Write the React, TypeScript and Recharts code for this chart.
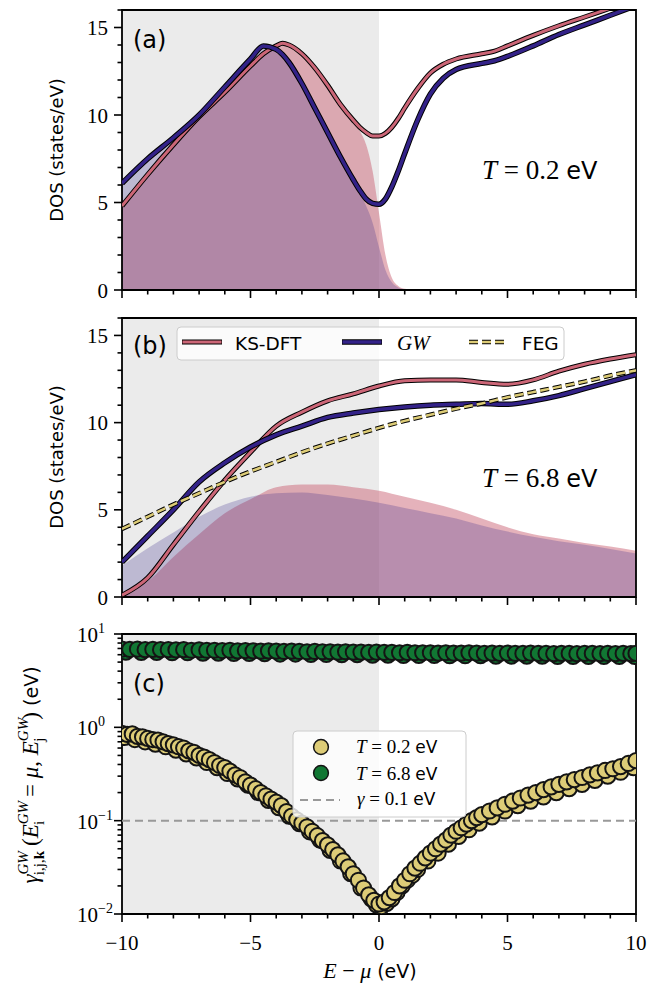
import {
  ComposedChart,
  ScatterChart,
  Area,
  Line,
  Scatter,
  XAxis,
  YAxis,
  ReferenceArea,
  ReferenceLine,
} from "recharts";

// panel (a), T = 0.2 eV
const ENERGY_A = [
  -10, -9, -8, -7, -6, -5, -4.5, -4, -3.75, -3.5, -3, -2.5, -2, -1.5, -1, -0.75,
  -0.5, -0.25, 0, 0.25, 0.5, 0.75, 1, 1.5, 2, 2.5, 3, 4, 4.5, 5, 6, 7, 8, 9, 10,
];
const KS_A = [
  4.8, 6.6, 8.3, 9.9, 11.3, 12.8, 13.5, 13.95, 14.1, 14.0, 13.5, 12.7, 11.7, 10.6,
  9.7, 9.3, 9.0, 8.8, 8.8, 8.95, 9.3, 9.8, 10.4, 11.5, 12.4, 12.9, 13.2, 13.5,
  13.65, 13.95, 14.55, 15.1, 15.6, 16.1, 16.6,
];
const GW_A = [
  6.1, 7.5, 8.7, 10.0, 11.6, 13.2, 13.95, 13.75, 13.45, 13.0, 11.8, 10.4, 9.0, 7.6,
  6.3, 5.7, 5.2, 4.95, 4.9, 5.2, 5.9, 6.8, 7.8, 9.7, 11.2, 12.1, 12.6, 12.95, 13.1,
  13.35, 13.95, 14.6, 15.15, 15.7, 16.25,
];
const KS_OCC_A = [
  4.8, 6.6, 8.3, 9.9, 11.3, 12.8, 13.5, 13.95, 14.1, 14.0, 13.5, 12.7, 11.7, 10.6,
  9.7, 9.1, 8.3, 6.8, 4.4, 2.0, 0.7, 0.23, 0.07, 0, 0, 0, 0, 0, 0, 0, 0, 0, 0, 0, 0,
];
const GW_OCC_A = [
  6.1, 7.5, 8.7, 10.0, 11.6, 13.2, 13.95, 13.75, 13.45, 13.0, 11.8, 10.4, 9.0, 7.6,
  6.3, 5.55, 4.8, 3.85, 2.45, 1.15, 0.45, 0.15, 0.05, 0, 0, 0, 0, 0, 0, 0, 0, 0, 0,
  0, 0,
];

// panel (b), T = 6.8 eV
const ENERGY_B = [-10, -9, -8, -7, -6, -5, -4, -3, -2, -1, 0, 1, 2, 3, 4, 5, 6, 7, 8, 9, 10];
const KS_B = [
  0.1, 1.1, 3.0, 4.9, 6.7, 8.3, 9.8, 10.6, 11.25, 11.65, 12.1, 12.4, 12.45, 12.45,
  12.3, 12.2, 12.45, 12.95, 13.35, 13.65, 13.9,
];
const GW_B = [
  2.0, 3.5, 5.0, 6.6, 7.7, 8.6, 9.3, 9.8, 10.3, 10.55, 10.75, 10.9, 11.0, 11.05,
  11.1, 11.05, 11.25, 11.55, 11.95, 12.35, 12.75,
];
const FEG_B = [
  3.9, 4.6, 5.3, 5.95, 6.6, 7.2, 7.75, 8.3, 8.8, 9.25, 9.7, 10.1, 10.45, 10.8, 11.1,
  11.45, 11.75, 12.05, 12.35, 12.7, 13.0,
];
const KS_OCC_B = [
  0.1, 0.9, 2.3, 3.6, 4.8, 5.6, 6.3, 6.45, 6.45, 6.3, 6.1, 5.75, 5.4, 5.0, 4.5, 4.0,
  3.6, 3.35, 3.1, 2.9, 2.65,
];
const GW_OCC_B = [
  1.8, 2.8, 3.7, 4.6, 5.3, 5.75, 5.95, 6.0, 5.85, 5.65, 5.4, 5.1, 4.8, 4.5, 4.1,
  3.75, 3.45, 3.2, 3.0, 2.75, 2.5,
];

// panel (c), quasiparticle widths [E - mu, gamma] in eV
const LOW_T_POINTS: [number, number][] = [
  [-10.0, 0.86], [-9.8, 0.84], [-9.6, 0.85], [-9.4, 0.8], [-9.2, 0.79], [-9.0, 0.76],
  [-8.8, 0.74], [-8.6, 0.73], [-8.4, 0.7], [-8.2, 0.67], [-8.0, 0.65], [-7.8, 0.62],
  [-7.6, 0.6], [-7.4, 0.56], [-7.2, 0.54], [-7.0, 0.5], [-6.8, 0.48], [-6.6, 0.45],
  [-6.4, 0.42], [-6.2, 0.39], [-6.0, 0.37], [-5.8, 0.34], [-5.6, 0.31], [-5.4, 0.29],
  [-5.2, 0.26], [-5.0, 0.24], [-4.8, 0.22], [-4.6, 0.2], [-4.4, 0.185], [-4.2, 0.17],
  [-4.0, 0.158], [-3.8, 0.145], [-3.6, 0.125], [-3.4, 0.112], [-3.2, 0.102],
  [-3.0, 0.094], [-2.8, 0.086], [-2.6, 0.077], [-2.4, 0.069], [-2.2, 0.061],
  [-2.0, 0.055], [-1.8, 0.049], [-1.6, 0.043], [-1.4, 0.037], [-1.2, 0.032],
  [-1.0, 0.027], [-0.8, 0.023], [-0.6, 0.019], [-0.4, 0.016], [-0.2, 0.014],
  [0.0, 0.0128], [0.2, 0.0135], [0.4, 0.015], [0.6, 0.017], [0.8, 0.02], [1.0, 0.023],
  [1.2, 0.027], [1.4, 0.031], [1.6, 0.035], [1.8, 0.04], [2.0, 0.045], [2.2, 0.05],
  [2.4, 0.056], [2.6, 0.062], [2.8, 0.07], [3.0, 0.077], [3.2, 0.084], [3.4, 0.092],
  [3.6, 0.1], [3.8, 0.108], [4.0, 0.116], [4.3, 0.127], [4.6, 0.137], [4.9, 0.15],
  [5.2, 0.162], [5.5, 0.175], [5.8, 0.188], [6.1, 0.2], [6.4, 0.215], [6.7, 0.23],
  [7.0, 0.245], [7.3, 0.26], [7.6, 0.275], [7.9, 0.29], [8.2, 0.31], [8.5, 0.325],
  [8.8, 0.345], [9.1, 0.36], [9.4, 0.38], [9.7, 0.41], [10.0, 0.44],
];
// states sitting on the lower edge of the T = 0.2 eV band
const LOW_T_LOWER: [number, number][] = [
  [-9.9, 0.78], [-9.5, 0.74], [-9.1, 0.7], [-8.7, 0.66], [-8.3, 0.62], [-7.9, 0.57],
  [-7.5, 0.52], [-7.1, 0.47], [-6.7, 0.42], [-6.3, 0.37], [-5.9, 0.32], [-5.5, 0.28],
  [-5.1, 0.24], [-4.7, 0.2], [-4.3, 0.165], [-3.9, 0.138], [-3.5, 0.112], [-3.1, 0.093],
  [-2.7, 0.076], [-2.3, 0.062], [-1.9, 0.048], [-1.5, 0.037], [-1.1, 0.027],
  [-0.7, 0.019], [-0.3, 0.0145], [-0.1, 0.0125], [0.1, 0.012], [0.3, 0.013],
  [0.5, 0.0145], [0.7, 0.017], [0.9, 0.02], [1.1, 0.023], [1.3, 0.026], [1.5, 0.03],
  [1.9, 0.037], [2.3, 0.045], [2.7, 0.056], [3.1, 0.068], [3.5, 0.08], [3.9, 0.094],
  [4.4, 0.11], [4.9, 0.127], [5.4, 0.145], [5.9, 0.162], [6.4, 0.18], [6.9, 0.2],
  [7.4, 0.22], [7.9, 0.245], [8.4, 0.27], [8.9, 0.3], [9.4, 0.33], [9.9, 0.37],
];
const HIGH_T_POINTS: [number, number][] = [
  [-10.0, 6.9], [-9.7, 6.85], [-9.4, 6.9], [-9.1, 6.8], [-8.8, 6.85], [-8.5, 6.8],
  [-8.2, 6.8], [-7.9, 6.75], [-7.6, 6.8], [-7.3, 6.7], [-7.0, 6.75], [-6.7, 6.7],
  [-6.4, 6.7], [-6.1, 6.65], [-5.8, 6.7], [-5.5, 6.6], [-5.2, 6.65], [-4.9, 6.6],
  [-4.6, 6.55], [-4.3, 6.6], [-4.0, 6.55], [-3.7, 6.5], [-3.4, 6.55], [-3.1, 6.5],
  [-2.8, 6.45], [-2.5, 6.5], [-2.2, 6.45], [-1.9, 6.45], [-1.6, 6.4], [-1.3, 6.45],
  [-1.0, 6.4], [-0.7, 6.4], [-0.4, 6.35], [-0.1, 6.4], [0.2, 6.35], [0.5, 6.35],
  [0.8, 6.3], [1.1, 6.35], [1.4, 6.3], [1.7, 6.3], [2.0, 6.3], [2.3, 6.25], [2.6, 6.3],
  [2.9, 6.25], [3.2, 6.25], [3.5, 6.3], [3.8, 6.25], [4.1, 6.2], [4.4, 6.25], [4.7, 6.2],
  [5.0, 6.25], [5.3, 6.2], [5.6, 6.2], [5.9, 6.25], [6.2, 6.2], [6.5, 6.2], [6.8, 6.15],
  [7.1, 6.2], [7.4, 6.2], [7.7, 6.15], [8.0, 6.2], [8.3, 6.2], [8.6, 6.15], [8.9, 6.2],
  [9.2, 6.15], [9.5, 6.2], [9.8, 6.15], [10.0, 6.2],
];
const HIGH_T_LOWER: [number, number][] = [
  [-9.85, 6.4], [-9.25, 6.35], [-8.65, 6.35], [-8.05, 6.3], [-7.45, 6.3], [-6.85, 6.25],
  [-6.25, 6.25], [-5.65, 6.2], [-5.05, 6.2], [-4.45, 6.15], [-3.85, 6.1], [-3.25, 6.1],
  [-2.65, 6.05], [-2.05, 6.05], [-1.45, 6.0], [-0.85, 6.0], [-0.25, 5.95], [0.35, 5.95],
  [0.95, 5.9], [1.55, 5.9], [2.15, 5.9], [2.75, 5.85], [3.35, 5.85], [3.95, 5.85],
  [4.55, 5.8], [5.15, 5.8], [5.75, 5.8], [6.35, 5.8], [6.95, 5.75], [7.55, 5.75],
  [8.15, 5.75], [8.75, 5.75], [9.35, 5.75], [9.95, 5.75],
];
const GAMMA_REF = 0.1;

const X_TICKS = [-10, -9, -8, -7, -6, -5, -4, -3, -2, -1, 0, 1, 2, 3, 4, 5, 6, 7, 8, 9, 10];
const DOS_TICKS = [0, 1, 2, 3, 4, 5, 6, 7, 8, 9, 10, 11, 12, 13, 14, 15, 16];
const LOG_TICKS = [
  0.01, 0.02, 0.03, 0.04, 0.05, 0.06, 0.07, 0.08, 0.09, 0.1, 0.2, 0.3, 0.4, 0.5, 0.6,
  0.7, 0.8, 0.9, 1, 2, 3, 4, 5, 6, 7, 8, 9, 10,
];

const ROSE = "#CC6677";
const INDIGO = "#332288";
const SAND = "#DDCC77";
const GREEN = "#117733";
const SHADE = "#ebebeb";
const SERIF = "'Liberation Serif', 'DejaVu Serif', serif";
const SANS = "'DejaVu Sans', sans-serif";

const fmt = (v: number) => (v < 0 ? `\u2212${-v}` : `${v}`);

const XTick = (p: any, withLabel: boolean) => {
  const v = p.payload.value;
  const major = v % 5 === 0;
  return (
    <g>
      <line x1={p.x} x2={p.x} y1={p.y} y2={p.y + (major ? 8 : 4.5)} stroke="#000" strokeWidth={1.6} />
      {withLabel && major && (
        <text x={p.x} y={p.y + 36} textAnchor="middle" fontFamily={SERIF} fontSize={21} fill="#000">
          {fmt(v)}
        </text>
      )}
    </g>
  );
};

const DosTick = (p: any) => {
  const v = p.payload.value;
  const major = v % 5 === 0;
  return (
    <g>
      <line x1={p.x} x2={p.x - (major ? 8 : 4.5)} y1={p.y} y2={p.y} stroke="#000" strokeWidth={1.6} />
      {major && (
        <text x={p.x - 14} y={p.y + 7.5} textAnchor="end" fontFamily={SERIF} fontSize={21} fill="#000">
          {v}
        </text>
      )}
    </g>
  );
};

const LogTick = (p: any) => {
  const v = p.payload.value;
  const exp = Math.round(Math.log10(v));
  const major = Math.abs(Math.log10(v) - exp) < 1e-6;
  return (
    <g>
      <line x1={p.x} x2={p.x - (major ? 8 : 4.5)} y1={p.y} y2={p.y} stroke="#000" strokeWidth={1.6} />
      {major && (
        <text x={p.x - 24} y={p.y + 8} textAnchor="end" fontFamily={SERIF} fontSize={21} fill="#000">
          10
        </text>
      )}
      {major && (
        <text x={p.x - 24} y={p.y - 1} textAnchor="start" fontFamily={SERIF} fontSize={14} fill="#000">
          {fmt(exp)}
        </text>
      )}
    </g>
  );
};

function DosPanel({
  energy,
  ks,
  gw,
  ksOcc,
  gwOcc,
  feg,
  marginTop,
  marginBottom,
  height,
}: {
  energy: number[];
  ks: number[];
  gw: number[];
  ksOcc: number[];
  gwOcc: number[];
  feg?: number[];
  marginTop: number;
  marginBottom: number;
  height: number;
}) {
  const rows = energy.map((e, i) => ({
    e,
    ks: ks[i],
    gw: gw[i],
    ksOcc: ksOcc[i],
    gwOcc: gwOcc[i],
    feg: feg ? feg[i] : undefined,
  }));
  return (
    <ComposedChart
      width={649}
      height={height}
      data={rows}
      margin={{ top: marginTop, right: 13, bottom: marginBottom, left: 62 }}
    >
      <XAxis
        dataKey="e"
        type="number"
        domain={[-10, 10]}
        ticks={X_TICKS}
        interval={0}
        allowDataOverflow
        axisLine={false}
        tickLine={false}
        tickSize={0}
        tickMargin={0}
        height={10}
        tick={(p: any) => XTick(p, false)}
      />
      <YAxis
        type="number"
        domain={[0, 16]}
        ticks={DOS_TICKS}
        interval={0}
        allowDataOverflow
        axisLine={false}
        tickLine={false}
        tickSize={0}
        tickMargin={0}
        width={60}
        tick={DosTick}
      />
      <ReferenceArea x1={-10} x2={0} y1={0} y2={16} fill={SHADE} fillOpacity={1} stroke="none" />
      <Area type="monotone" dataKey="ksOcc" fill={ROSE} fillOpacity={0.5} stroke="none" isAnimationActive={false} />
      <Area type="monotone" dataKey="gwOcc" fill={INDIGO} fillOpacity={0.25} stroke="none" isAnimationActive={false} />
      <Line type="monotone" dataKey="ks" stroke="#000" strokeWidth={5} dot={false} isAnimationActive={false} />
      <Line type="monotone" dataKey="ks" stroke={ROSE} strokeWidth={3} dot={false} isAnimationActive={false} />
      <Line type="monotone" dataKey="gw" stroke="#000" strokeWidth={5.5} dot={false} isAnimationActive={false} />
      <Line type="monotone" dataKey="gw" stroke={INDIGO} strokeWidth={3.5} dot={false} isAnimationActive={false} />
      {feg && (
        <Line type="monotone" dataKey="feg" stroke="#000" strokeWidth={4.5} strokeDasharray="9 4" dot={false} isAnimationActive={false} />
      )}
      {feg && (
        <Line type="monotone" dataKey="feg" stroke={SAND} strokeWidth={2.5} strokeDasharray="9 4" dot={false} isAnimationActive={false} />
      )}
      <ReferenceArea x1={-10} x2={10} y1={0} y2={16} fill="none" stroke="#000" strokeWidth={1.8} />
    </ComposedChart>
  );
}

const dotShape = (fill: string) => (p: any) => (
  <circle cx={p.cx} cy={p.cy} r={7.6} fill={fill} stroke="#141414" strokeWidth={2} />
);

const toXY = (pts: [number, number][]) => pts.map(([x, y]) => ({ x, y }));

function WidthPanel() {
  return (
    <ScatterChart width={649} height={374} margin={{ top: 24, right: 13, bottom: 30, left: 62 }}>
      <XAxis
        dataKey="x"
        type="number"
        domain={[-10, 10]}
        ticks={X_TICKS}
        interval={0}
        allowDataOverflow
        axisLine={false}
        tickLine={false}
        tickSize={0}
        tickMargin={0}
        height={40}
        tick={(p: any) => XTick(p, true)}
      />
      <YAxis
        dataKey="y"
        type="number"
        scale="log"
        domain={[0.01, 10]}
        ticks={LOG_TICKS}
        interval={0}
        allowDataOverflow
        axisLine={false}
        tickLine={false}
        tickSize={0}
        tickMargin={0}
        width={60}
        tick={LogTick}
      />
      <ReferenceArea x1={-10} x2={0} y1={0.01} y2={10} fill={SHADE} fillOpacity={1} stroke="none" />
      <Scatter data={toXY(HIGH_T_LOWER)} shape={dotShape(GREEN)} isAnimationActive={false} />
      <Scatter data={toXY(HIGH_T_POINTS)} shape={dotShape(GREEN)} isAnimationActive={false} />
      <Scatter data={toXY(LOW_T_LOWER)} shape={dotShape(SAND)} isAnimationActive={false} />
      <Scatter data={toXY(LOW_T_POINTS)} shape={dotShape(SAND)} isAnimationActive={false} />
      <ReferenceLine y={GAMMA_REF} stroke="#999999" strokeWidth={2} strokeDasharray="8 5" />
      <ReferenceArea x1={-10} x2={10} y1={0.01} y2={10} fill="none" stroke="#000" strokeWidth={1.8} />
    </ScatterChart>
  );
}

function Overlay() {
  return (
    <svg
      width={649}
      height={984}
      style={{ position: "absolute", left: 0, top: 0, pointerEvents: "none" }}
    >
      {/* panel tags */}
      <text x={133} y={48} fontFamily={SANS} fontSize={24}>(a)</text>
      <text x={133} y={354} fontFamily={SANS} fontSize={24}>(b)</text>
      <text x={133} y={692} fontFamily={SANS} fontSize={24}>(c)</text>

      {/* temperatures */}
      <text x={482} y={179} fontSize={27}>
        <tspan fontFamily={SERIF} fontStyle="italic">T</tspan>
        <tspan fontFamily={SERIF}> = 0.2 </tspan>
        <tspan fontFamily={SANS} fontSize={24}>eV</tspan>
      </text>
      <text x={482} y={487} fontSize={27}>
        <tspan fontFamily={SERIF} fontStyle="italic">T</tspan>
        <tspan fontFamily={SERIF}> = 6.8 </tspan>
        <tspan fontFamily={SANS} fontSize={24}>eV</tspan>
      </text>

      {/* y labels */}
      <text transform="translate(63,150) rotate(-90)" textAnchor="middle" fontFamily={SANS} fontSize={18}>
        DOS (states/eV)
      </text>
      <text transform="translate(63,457) rotate(-90)" textAnchor="middle" fontFamily={SANS} fontSize={18}>
        DOS (states/eV)
      </text>
      <text transform="translate(38,775) rotate(-90)" textAnchor="middle" fontFamily={SERIF} fontSize={23}>
        <tspan fontStyle="italic">γ</tspan>
        <tspan fontStyle="italic" fontSize={15} dy={-10}>GW</tspan>
        <tspan fontSize={15} dx={-24} dy={16}>i,j,</tspan>
        <tspan fontSize={15} fontWeight="bold">k</tspan>
        <tspan dy={-6} dx={5}>(</tspan>
        <tspan fontStyle="italic">E</tspan>
        <tspan fontStyle="italic" fontSize={15} dy={-10}>GW</tspan>
        <tspan fontSize={15} dx={-24} dy={16}>i</tspan>
        <tspan dy={-6} dx={18}> = </tspan>
        <tspan fontStyle="italic">μ</tspan>
        <tspan>, </tspan>
        <tspan fontStyle="italic">E</tspan>
        <tspan fontStyle="italic" fontSize={15} dy={-10}>GW</tspan>
        <tspan fontSize={15} dx={-24} dy={16}>j</tspan>
        <tspan dy={-6} dx={18}>)</tspan>
        <tspan fontFamily={SANS} fontSize={19}> (eV)</tspan>
      </text>

      {/* x label */}
      <text x={370} y={978} textAnchor="middle" fontSize={22}>
        <tspan fontFamily={SERIF} fontStyle="italic">E</tspan>
        <tspan fontFamily={SERIF}> − </tspan>
        <tspan fontFamily={SERIF} fontStyle="italic">μ</tspan>
        <tspan fontFamily={SANS} fontSize={19}> (eV)</tspan>
      </text>

      {/* legend (b) */}
      <rect x={177} y={327} width={387} height={33} rx={4} fill="#fff" fillOpacity={0.8} stroke="#cccccc" />
      <line x1={182} x2={222} y1={342} y2={342} stroke="#000" strokeWidth={5} />
      <line x1={182.5} x2={221.5} y1={342} y2={342} stroke={ROSE} strokeWidth={3} />
      <text x={235} y={350} fontFamily={SANS} fontSize={18.5}>KS-DFT</text>
      <line x1={342} x2={382} y1={342} y2={342} stroke="#000" strokeWidth={5.5} />
      <line x1={342.5} x2={381.5} y1={342} y2={342} stroke={INDIGO} strokeWidth={3.5} />
      <text x={397} y={350} fontFamily={SERIF} fontStyle="italic" fontSize={21}>GW</text>
      <line x1={469} x2={507} y1={342} y2={342} stroke="#000" strokeWidth={4.5} strokeDasharray="9 4" />
      <line x1={469} x2={507} y1={342} y2={342} stroke={SAND} strokeWidth={2.5} strokeDasharray="9 4" />
      <text x={522} y={350} fontFamily={SANS} fontSize={18.5}>FEG</text>

      {/* legend (c) */}
      <rect x={293} y={731} width={173} height={86} rx={4} fill="#fff" fillOpacity={0.8} stroke="#cccccc" />
      <circle cx={321} cy={747} r={7.4} fill={SAND} stroke="#141414" strokeWidth={1.5} />
      <text x={356} y={753} fontSize={19}>
        <tspan fontFamily={SERIF} fontStyle="italic">T</tspan>
        <tspan fontFamily={SERIF}> = 0.2 </tspan>
        <tspan fontFamily={SANS} fontSize={17}>eV</tspan>
      </text>
      <circle cx={321} cy={773} r={7.4} fill={GREEN} stroke="#141414" strokeWidth={1.5} />
      <text x={356} y={780} fontSize={19}>
        <tspan fontFamily={SERIF} fontStyle="italic">T</tspan>
        <tspan fontFamily={SERIF}> = 6.8 </tspan>
        <tspan fontFamily={SANS} fontSize={17}>eV</tspan>
      </text>
      <line x1={300} x2={340} y1={800} y2={800} stroke="#999999" strokeWidth={2} strokeDasharray="8 5" />
      <text x={357} y={805} fontSize={19}>
        <tspan fontFamily={SERIF} fontStyle="italic">γ</tspan>
        <tspan fontFamily={SERIF}> = 0.1 </tspan>
        <tspan fontFamily={SANS} fontSize={17}>eV</tspan>
      </text>
    </svg>
  );
}

export default function App() {
  return (
    <div style={{ position: "absolute", left: 0, top: 0, width: 649, height: 984, background: "#fff" }}>
      <div style={{ position: "absolute", left: 0, top: 0 }}>
        <DosPanel
          energy={ENERGY_A}
          ks={KS_A}
          gw={GW_A}
          ksOcc={KS_OCC_A}
          gwOcc={GW_OCC_A}
          marginTop={10}
          marginBottom={15}
          height={315}
        />
      </div>
      <div style={{ position: "absolute", left: 0, top: 300 }}>
        <DosPanel
          energy={ENERGY_B}
          ks={KS_B}
          gw={GW_B}
          ksOcc={KS_OCC_B}
          gwOcc={GW_OCC_B}
          feg={FEG_B}
          marginTop={18}
          marginBottom={3}
          height={310}
        />
      </div>
      <div style={{ position: "absolute", left: 0, top: 610 }}>
        <WidthPanel />
      </div>
      <Overlay />
    </div>
  );
}
